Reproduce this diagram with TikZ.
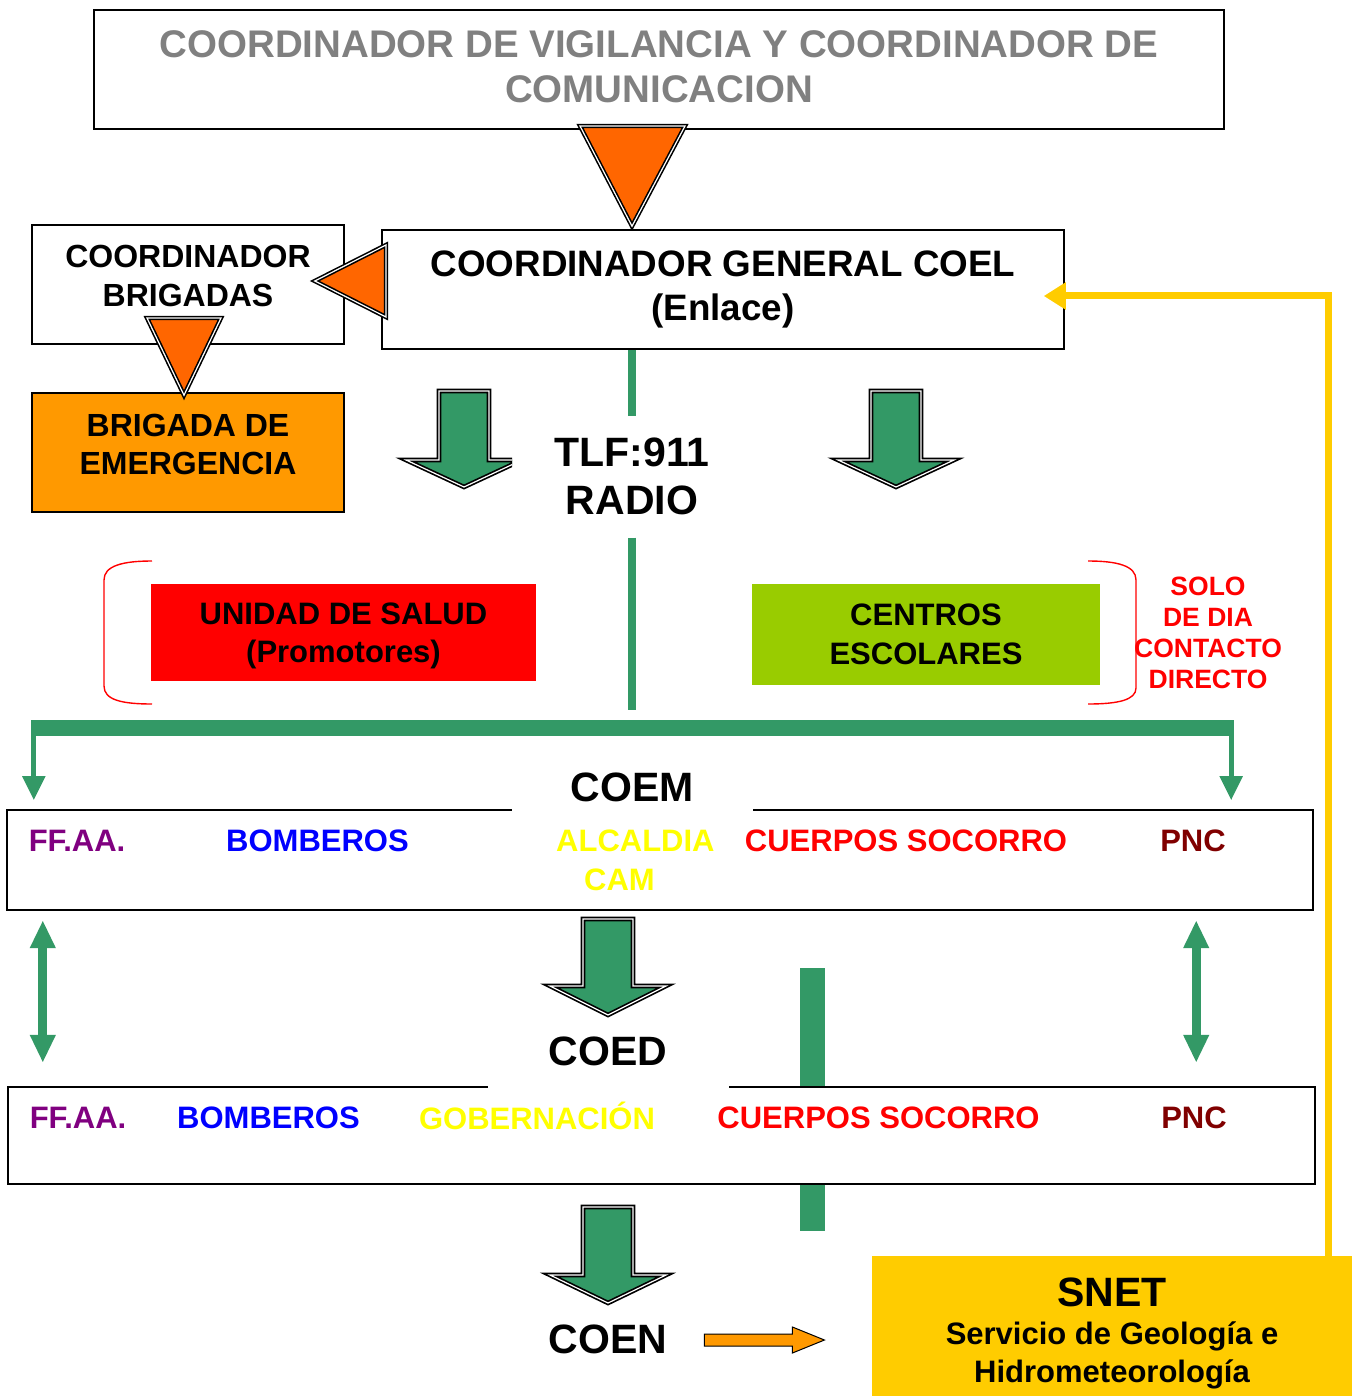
\documentclass[tikz,border=0pt]{standalone}
\usepackage{fontspec}
\setmainfont{Liberation Sans}
\usetikzlibrary{arrows.meta,calc}
\definecolor{gtext}{HTML}{808080}
\definecolor{otri}{HTML}{FF6600}
\definecolor{obox}{HTML}{FF9900}
\definecolor{gcol}{HTML}{339966}
\definecolor{centc}{HTML}{99CC00}
\definecolor{purp}{HTML}{800080}
\definecolor{blu}{HTML}{0000FF}
\definecolor{yel}{HTML}{FFFF00}
\definecolor{dred}{HTML}{800000}
\definecolor{snetc}{HTML}{FFCC00}
\newcommand{\myfs}[2]{\bfseries\fontsize{#1}{#2}\selectfont}
\newcommand{\garrow}[6]{%
  \path[blockarrow] ({#1-#5},#2) -- ({#1+#5},#2) -- ({#1+#5},#3) -- ({#1+#6},#3) -- (#1,#4) -- ({#1-#6},#3) -- ({#1-#5},#3) -- cycle;}
\begin{document}
\begin{tikzpicture}[x=1pt,y=-1pt,
  box/.style={draw=black, line width=1.6pt, rectangle, inner sep=0pt, align=center},
  plain/.style={inner sep=0pt, align=center},
  bline/.style={draw=black, line width=1.6pt},
  blockarrow/.style={fill=gcol, draw=black, line width=1.7pt, double=white, double distance=1.2pt, line join=miter},
  otriang/.style={fill=otri, draw=black, line width=1.6pt, double=white, double distance=1.2pt, line join=miter},
  gline/.style={draw=gcol, line width=8pt},
  dblarrow/.style={draw=gcol, line width=9pt, {Triangle[length=28pt,width=24pt]}-{Triangle[length=28pt,width=24pt]}},
  bararrow/.style={draw=gcol, line width=5pt, -{Triangle[length=24pt,width=22pt]}},
  yline/.style={draw=snetc, line width=7pt, line join=miter, -{Triangle[length=22pt,width=26pt]}},
  oarrow/.style={fill=obox, draw=black, line width=1pt, line join=miter},
  bracket/.style={draw=red, line width=1.4pt}
]
\useasboundingbox (0,0) rectangle (1359,1396);

% top box
\node[box, minimum width=1130pt, minimum height=119pt, text=gtext, font=\myfs{38.5}{45}] (top) at (659,69.5)
  {COORDINADOR DE VIGILANCIA Y COORDINADOR DE\\COMUNICACION\rule[-6pt]{0pt}{0pt}};

% coordinador brigadas
\node[box, minimum width=312pt, minimum height=119pt, font=\myfs{32}{39}] (cb) at (188,284.5)
  {COORDINADOR\\BRIGADAS\rule[-18pt]{0pt}{0pt}};

% COEL
\node[box, minimum width=682pt, minimum height=119pt, font=\myfs{36.8}{44}] (coel) at (723,289.5)
  {COORDINADOR GENERAL COEL\\(Enlace)};

% brigada de emergencia
\node[box, fill=obox, minimum width=312pt, minimum height=119pt, font=\myfs{32}{38}] (brig) at (188,452.5)
  {BRIGADA DE\\EMERGENCIA\rule[-17pt]{0pt}{0pt}};

% orange triangles
\path[otriang] (580,126) -- (685,126) -- ($(coel.north)+(-91,-3)$) -- cycle;
\path[otriang] ($(cb.east)+(-30,-3.5)$) -- (386,245) -- (386,317) -- cycle;
\path[otriang] (147,318) -- (221,318) -- ($(brig.north)+(-4,3)$) -- cycle;

% TLF
\node[plain, font=\myfs{41}{48}] (tlf) at (632,476) {TLF:911\\RADIO};

% green block arrows upper
\begin{scope}
  \clip (0,0) rectangle (512,1396);
  \garrow{464}{391}{460}{487}{25}{58}
\end{scope}
\garrow{896}{391}{460}{487}{25}{58}

% health / schools
\node[plain, fill=red, minimum width=385pt, minimum height=97pt, font=\myfs{31}{38}] (salud) at (343.5,632.5)
  {\rule{0pt}{28pt}UNIDAD DE SALUD\\(Promotores)};
\node[plain, fill=centc, minimum width=348pt, minimum height=101pt, font=\myfs{31}{39}] (centros) at (926,634.5)
  {CENTROS\\ESCOLARES};
\node[plain, text=red, font=\myfs{26.5}{31}] (solo) at (1208,632.5)
  {SOLO\\DE DIA\\CONTACTO\\DIRECTO};

% brackets
\draw[bracket] (152,561) .. controls (122,561) and (104,566) .. (104,580) -- (104,686) .. controls (104,700) and (122,704) .. (152,704);
\draw[bracket] (1088,561) .. controls (1118,561) and (1136,566) .. (1136,580) -- (1136,688) .. controls (1136,700) and (1118,704) .. (1088,704);

% green bar
\node[plain, fill=gcol, minimum width=1203pt, minimum height=16pt] (bar) at (632.5,728) {};

% green lines from COEL through TLF to bar
\draw[gline] (coel.south -| tlf.north) -- ++(0,66);
\draw[gline] ($(tlf.south)+(0,23)$) -- ($(bar.north -| tlf.south)+(0,-10)$);

% bar arrows down to COEM
\draw[bararrow] ($(bar.south west)+(3,0)$) -- ++(0,64);
\draw[bararrow] ($(bar.south east)+(-3,0)$) -- ++(0,64);

% COEM
\node[plain, font=\myfs{41}{48}] (coeml) at (632,787) {COEM};
\node[plain, minimum width=1306pt, minimum height=100pt] (coem) at (660,860) {};
\draw[bline] ($(coem.north west)+(505,0)$) -- (coem.north west) -- (coem.south west) -- (coem.south east) -- (coem.north east) -- ($(coem.north west)+(746,0)$);
\node[plain, text=purp, font=\myfs{31}{38}] (ffaa1) at (77,841) {FF.AA.};
\node[plain, text=blu, font=\myfs{31}{38}] (bomb1) at (317.5,841) {BOMBEROS};
\node[plain, text=yel, font=\myfs{31}{39}, align=left, anchor=north west] (alc) at (556,830) {ALCALDIA\\\hspace*{28pt}CAM};
\node[plain, text=red, font=\myfs{31}{38}] (cuer1) at (906,841) {CUERPOS SOCORRO};
\node[plain, text=dred, font=\myfs{31}{38}] (pnc1) at (1193,841) {PNC};

% COEM -> COED
\garrow{608}{919}{986}{1015}{25}{58}

% thick green bar behind COED box
\fill[gcol] (800,968) rectangle (825,1231);

% COED
\node[plain, font=\myfs{41}{48}] (coedl) at (608,1051) {COED};
\node[plain, fill=white, minimum width=1307pt, minimum height=97pt] (coed) at (661.5,1135.5) {};
\draw[bline] ($(coed.north west)+(480,0)$) -- (coed.north west) -- (coed.south west) -- (coed.south east) -- (coed.north east) -- ($(coed.north west)+(721,0)$);
\node[plain, text=purp, font=\myfs{31}{38}] (ffaa2) at (78,1118) {FF.AA.};
\node[plain, text=blu, font=\myfs{31}{38}] (bomb2) at (268.5,1118) {BOMBEROS};
\node[plain, text=yel, font=\myfs{31}{38}, text height=22.2pt, text depth=0pt] (gob) at (537,1118) {GOBERNACIÓN};
\node[plain, text=red, font=\myfs{31}{38}] (cuer2) at (878.5,1118) {CUERPOS SOCORRO};
\node[plain, text=dred, font=\myfs{31}{38}] (pnc2) at (1194,1118) {PNC};

% double arrows between COEM and COED
\draw[dblarrow] ($(coem.south west)+(36,10)$) -- ($(coed.north west)+(35,-24)$);
\draw[dblarrow] ($(coem.south east)+(-117,10)$) -- ($(coed.north east)+(-119,-24)$);

% COED -> COEN
\garrow{608}{1207}{1275}{1303}{25}{58}
\node[plain, font=\myfs{41}{48}] (coenl) at (608,1339) {COEN};

% SNET
\node[plain, fill=snetc, minimum width=480pt, minimum height=140pt, font=\myfs{31}{38}] (snet) at (1112,1326)
  {\rule{0pt}{43pt}{\fontsize{41}{41}\selectfont SNET}\\Servicio de Geología e\\Hidrometeorología};

% orange arrow COEN -> SNET
\coordinate (oa) at ($(coenl.east)+(37,1)$);
\path[oarrow] (oa) ++(0,-6) -- ++(88,0) -- ++(0,-7) -- ++(32,13) -- ++(-32,13) -- ++(0,-7) -- ++(-88,0) -- cycle;

% yellow feedback line SNET -> COEL
\coordinate (yc) at (1328,296);
\draw[yline] (snet.north -| yc) -- (yc) -- ($(coel.east |- yc)+(-21,0)$);

\end{tikzpicture}
\end{document}
